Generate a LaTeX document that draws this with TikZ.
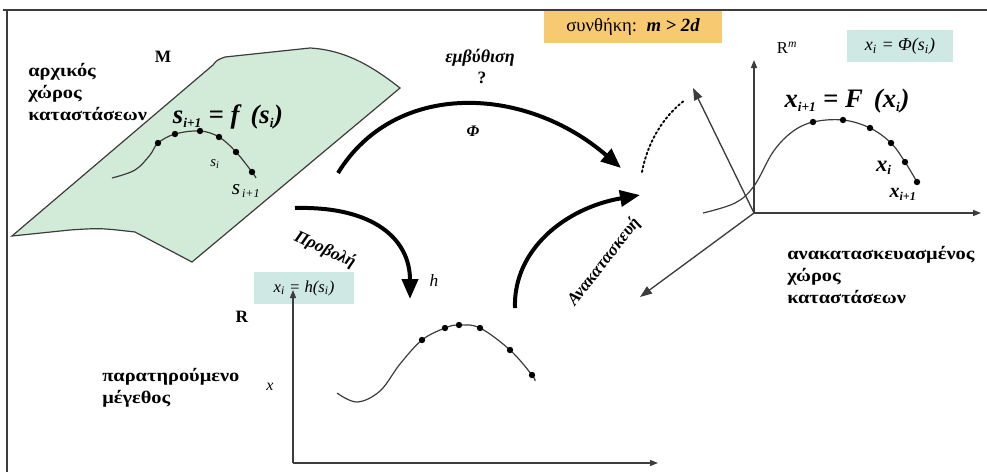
\documentclass[tikz,border=0pt]{standalone}
\usepackage{fontspec}
\setmainfont{Liberation Serif}
\newfontfamily\widefont[FakeStretch=1.15]{Liberation Serif}
\usetikzlibrary{arrows.meta}
\definecolor{mangreen}{RGB}{210,234,216}
\definecolor{condorange}{RGB}{247,202,114}
\definecolor{boxteal}{RGB}{206,232,228}
\definecolor{inkgray}{RGB}{60,60,60}
\tikzset{
  bigarrow/.style={line width=3pt, -{Triangle[length=15pt,width=12pt]}},
  axisarrow/.style={line width=1pt, draw=inkgray, -{Triangle[length=6pt,width=4.5pt]}},
  axisbig/.style={line width=1pt, draw=inkgray, -{Triangle[length=9pt,width=6.5pt]}},
  curveline/.style={line width=0.9pt, draw=inkgray},
  dotmark/.style={circle, fill=black, inner sep=0pt, minimum size=4.8pt},
  greeklab/.style={font=\widefont\bfseries\fontsize{13.3}{16.5}\selectfont, align=left, inner sep=0pt},
  formula/.style={font=\bfseries\itshape\fontsize{20}{22}\selectfont, inner sep=0pt},
  smalllab/.style={font=\itshape\fontsize{12}{14}\selectfont, inner sep=0pt},
  infobox/.style={inner sep=0pt, minimum width=#1, minimum height=24pt},
}
\begin{document}
\begin{tikzpicture}[x=0.75pt,y=-0.75pt]
\useasboundingbox (0,0) rectangle (987,472);
% frame
\draw[line width=1.6pt, draw=inkgray] (3,10) -- (987,10);
\draw[line width=1.2pt, draw=inkgray] (7,10) -- (7,472);

% manifold M
\draw[fill=mangreen, draw=inkgray, line width=0.9pt]
  (12,236) -- (213,65) .. controls (217,60) .. (225,57)
  -- (310,48) .. controls (345,50) and (372,66) .. (400,88)
  -- (192,262) -- (135,232) .. controls (100,228) .. (70,230) -- cycle;
\node[font=\bfseries\fontsize{13}{15}\selectfont] (Mlab) at (163,57) {M};
\node[greeklab, anchor=west] (origspace) at (28,92) {αρχικός\\χώρος\\καταστάσεων};
\draw[curveline] plot[smooth, tension=0.6] coordinates {(112,178) (135,170) (150,155) (158,143) (175,134) (200,131) (219,137) (236,152) (252,172) (256,178)};
\foreach \p/\n in {(158,143)/a1,(175,134)/a2,(200,131)/a3,(219,137)/a4,(236,152)/a5,(252,172)/a6}
  \node[dotmark] (\n) at \p {};
\node[formula] (fmap) at (228,117) {s\textsubscript{\fontsize{10}{12}\selectfont\itshape i+1}\ = \textit{f}\, (s\textsubscript{\fontsize{10}{12}\selectfont\itshape i})};
\node[smalllab, font=\itshape\fontsize{11}{13}\selectfont] (si) at (215,164) {s\textsubscript{i}};
\node[formula, font=\itshape\fontsize{16}{18}\selectfont] (sip) at (246,191) {s\textsubscript{\fontsize{9}{11}\selectfont\,i+1}};

% condition box
\node[infobox=133pt, fill=condorange, font=\fontsize{14}{16}\selectfont] (cond) at (633,27) {συνθήκη:\ \ {\bfseries\itshape m > 2d}};

% embedding labels
\node[font=\bfseries\itshape\fontsize{13.5}{15}\selectfont] (emb) at (480,58) {εμβύθιση};
\node[font=\bfseries\fontsize{13}{15}\selectfont] (qm) at (482,78) {?};
\node[font=\bfseries\itshape\fontsize{12}{14}\selectfont] (philab) at (473,131) {Φ};

% big arrows
\coordinate (phiS) at (338,173);
\coordinate (phiE) at (621,168);
\draw[bigarrow] (phiS) .. controls (395,80) and (525,85) .. (phiE);
\coordinate (projS) at (295,208);
\coordinate (projE) at (410,299);
\draw[bigarrow] (projS) .. controls (375,206) and (410,240) .. (projE);
\coordinate (recS) at (515,308);
\coordinate (recE) at (640,195);
\draw[bigarrow] (recS) .. controls (513,250) and (565,208) .. (recE);
\node[font=\bfseries\itshape\fontsize{13}{15}\selectfont, rotate=-25] (projlab) at (325,250) {Προβολή};
\node[font=\itshape\fontsize{13}{15}\selectfont] (hlab) at (434,280) {h};
\node[font=\bfseries\itshape\fontsize{13}{15}\selectfont, rotate=52] (reclab) at (604,262) {Ανακατασκευή};

% dotted arc
\coordinate (dotS) at (642,172);
\coordinate (dotE) at (685,100);
\draw[dotted, line width=1.4pt, line cap=round] (dotS) .. controls (648,140) and (665,115) .. (dotE);

% reconstructed space R^m
\coordinate (O3) at (754,213);
\coordinate (ax3up) at (754,60);
\coordinate (ax3right) at (981,213);
\coordinate (ax3obl) at (693,88);
\coordinate (ax3back) at (640,297);
\draw[curveline] plot[smooth, tension=0.6] coordinates {(703,213) (735,203) (754,186) (773,152) (792,132) (813,122) (843,120) (870,128) (891,143) (905,162) (917,182)};
\draw[axisarrow] (O3) -- (ax3up);
\draw[axisarrow] (O3) -- (ax3right);
\draw[axisbig] (O3) -- (ax3obl);
\draw[axisbig] (O3) -- (ax3back);
\foreach \p/\n in {(813,122)/b1,(843,120)/b2,(870,128)/b3,(891,143)/b4,(905,162)/b5,(917,182)/b6}
  \node[dotmark] (\n) at \p {};
\node[font=\fontsize{12.5}{14}\selectfont] (Rm) at (787,48) {R\textsuperscript{\itshape m}};
\node[infobox=80pt, fill=boxteal, font=\itshape\fontsize{13.5}{15}\selectfont] (phibox) at (900,46) {x\textsubscript{i} = Φ(s\textsubscript{i})};
\node[formula] (Fmap) at (847,101) {x\textsubscript{\fontsize{10}{12}\selectfont i+1}\ = F\, (x\textsubscript{\fontsize{10}{12}\selectfont i})};
\node[formula, font=\bfseries\itshape\fontsize{17}{19}\selectfont] (xi) at (884,168) {x\textsubscript{\fontsize{10}{12}\selectfont i}};
\node[formula, font=\bfseries\itshape\fontsize{15}{17}\selectfont] (xip) at (903,194) {x\textsubscript{\fontsize{9}{11}\selectfont i+1}};
\node[greeklab, anchor=west] (recspace) at (787,275) {ανακατασκευασμένος\\χώρος\\καταστάσεων};

% observed quantity R
\node[infobox=75pt, fill=boxteal, font=\itshape\fontsize{12.5}{14}\selectfont] (hbox) at (304,288) {x\textsubscript{i} = h(s\textsubscript{i})};
\coordinate (O1) at (293,463);
\coordinate (ax1up) at (293,290);
\coordinate (ax1right) at (658,463);
\draw[axisarrow] (O1) -- (ax1up);
\draw[axisarrow] (O1) -- (ax1right);
\draw[curveline] plot[smooth, tension=0.6] coordinates {(337,393) (357,402) (380,391) (400,364) (422,340) (445,328) (459,325) (480,328) (510,350) (532,375) (535,381)};
\foreach \p/\n in {(422,340)/c1,(445,328)/c2,(459,325)/c3,(480,328)/c4,(510,350)/c5,(532,375)/c6}
  \node[dotmark] (\n) at \p {};
\node[font=\bfseries\fontsize{13}{15}\selectfont] (Rlab) at (242,317) {R};
\node[font=\itshape\fontsize{12}{14}\selectfont] (xlab) at (270,387) {x};
\node[greeklab, anchor=west] (obs) at (102,388) {παρατηρούμενο\\μέγεθος};
\end{tikzpicture}
\end{document}
